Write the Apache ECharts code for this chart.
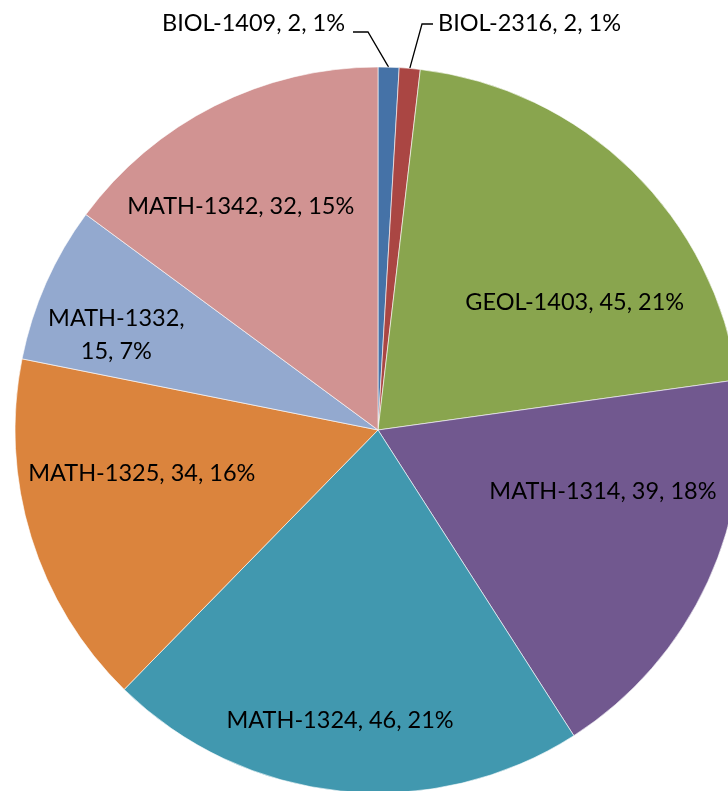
<!DOCTYPE html>
<html>
<head>
<meta charset="utf-8">
<script src="https://cdn.jsdelivr.net/npm/echarts@6/dist/echarts.min.js"></script>
<style>
  html, body { margin: 0; padding: 0; background: #fff; }
  #chart { width: 728px; height: 791px; }
</style>
</head>
<body>
<div id="chart"></div>
<script>
// course names and student counts (clockwise from the top)
const courses = ['BIOL-1409', 'BIOL-2316', 'GEOL-1403', 'MATH-1314', 'MATH-1324', 'MATH-1325', 'MATH-1332', 'MATH-1342'];
const counts = [2, 2, 45, 39, 46, 34, 15, 32];
const colors = ['#4572A7', '#AA4643', '#89A54E', '#71588F', '#4198AF', '#DB843D', '#93A9CF', '#D19392'];

// pie geometry
const cx = 378, cy = 430, R = 363;

// label placement: [angle clockwise from top in degrees, fraction of radius]
const labelPolar = [null, null, [56.5, 0.65], [104.5, 0.64], [187.5, 0.80], [260.4, 0.66], [290.6, 0.77], [328.8, 0.73]];

const total = counts.reduce((a, b) => a + b, 0);

const chart = echarts.init(document.getElementById('chart'));

const data = courses.map((name, i) => {
  const outside = counts[i] / total < 0.02;
  return {
    name: name,
    value: counts[i],
    itemStyle: { color: colors[i] },
    label: { position: outside ? 'outside' : 'inside' },
    labelLine: { show: outside }
  };
});

chart.setOption({
  animation: false,
  series: [{
    type: 'pie',
    center: [cx, cy],
    radius: [0, R],
    startAngle: 90,
    clockwise: true,
    data: data,
    itemStyle: { borderColor: '#fff', borderWidth: 0.6 },
    label: {
      show: true,
      color: '#000',
      fontFamily: 'Lato',
      fontSize: 23.5,
      lineHeight: 33,
      overflow: 'none',
      formatter: p => {
        const pct = Math.round(p.value / total * 100);
        if (p.name === 'MATH-1332') return p.name + ',\n' + p.value + ', ' + pct + '%';
        return p.name + ', ' + p.value + ', ' + pct + '%';
      }
    },
    labelLine: {
      show: true,
      lineStyle: { color: '#000', width: 1.3 }
    },
    labelLayout: p => {
      const i = p.dataIndex;
      if (i === 0) {
        const s = p.labelLinePoints ? p.labelLinePoints[0] : [388, 67];
        return {
          x: 345, y: 23, align: 'right', verticalAlign: 'middle',
          labelLinePoints: [s, [368, 32], [353, 32]]
        };
      }
      if (i === 1) {
        const s = p.labelLinePoints ? p.labelLinePoints[0] : [410, 67];
        return {
          x: 438, y: 23, align: 'left', verticalAlign: 'middle',
          labelLinePoints: [s, [422, 24], [433, 24]]
        };
      }
      const a = labelPolar[i][0] * Math.PI / 180;
      const r = labelPolar[i][1] * R;
      return {
        x: cx + r * Math.sin(a),
        y: cy - r * Math.cos(a) + 3,
        align: 'center',
        verticalAlign: 'middle'
      };
    }
  }]
});
</script>
</body>
</html>
